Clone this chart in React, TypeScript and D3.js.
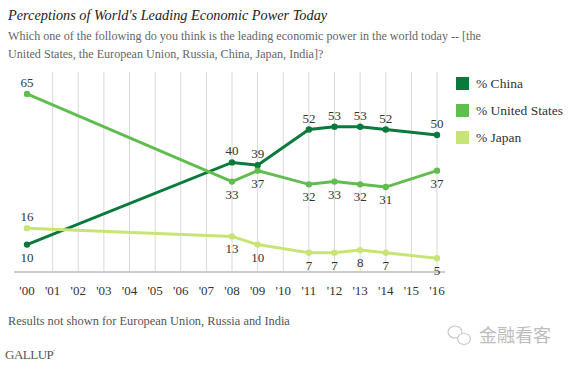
import * as d3 from 'd3';
import React from 'react';

const years = [2000, 2001, 2002, 2003, 2004, 2005, 2006, 2007, 2008, 2009, 2010, 2011, 2012, 2013, 2014, 2015, 2016];
const surveyYears = [2000, 2008, 2009, 2011, 2012, 2013, 2014, 2016];
const china = [10, 40, 39, 52, 53, 53, 52, 50];
const unitedStates = [65, 33, 37, 32, 33, 32, 31, 37];
const japan = [16, 13, 10, 7, 7, 8, 7, 5];
const tickLabels = years.map((y) => "'" + String(y).slice(2));

// label above (-1) or below (1) each point
const chinaPos = [1, -1, -1, -1, -1, -1, -1, -1];
const usPos = [-1, 1, 1, 1, 1, 1, 1, 1];
const japanPos = [-1, 1, 1, 1, 1, 1, 1, 1];

const serif = "Liberation Serif, DejaVu Serif, serif";

const series = [
  { name: '% China', values: china, pos: chinaPos, color: '#0a7a3c' },
  { name: '% United States', values: unitedStates, pos: usPos, color: '#62bd50' },
  { name: '% Japan', values: japan, pos: japanPos, color: '#c9e476' },
];

const App = () => {
  const x = d3.scaleLinear().domain([2000, 2016]).range([27, 437]);
  const y = d3.scaleLinear().domain([0, 73]).range([272, 72]);

  const line = d3
    .line<[number, number]>()
    .x((d) => x(d[0]))
    .y((d) => y(d[1]));

  return (
    <svg width={572} height={370} style={{ position: 'absolute', left: 0, top: 0, background: '#fff' }}>
      <text x={8} y={20} fontFamily={serif} fontStyle="italic" fontSize={14.3} fill="#222">
        Perceptions of World's Leading Economic Power Today
      </text>
      <text x={8} y={40} fontFamily={serif} fontSize={12.1} fill="#666">
        Which one of the following do you think is the leading economic power in the world today -- [the
      </text>
      <text x={8} y={58} fontFamily={serif} fontSize={12.1} fill="#666">
        United States, the European Union, Russia, China, Japan, India]?
      </text>

      {years.slice(1).map((yr) => (
        <line key={yr} x1={x(yr)} x2={x(yr)} y1={72} y2={272} stroke="#d9d9d9" strokeWidth={1} />
      ))}
      <line x1={14} x2={445} y1={y(0)} y2={y(0)} stroke="#cccccc" strokeWidth={2} />

      {years.map((yr, i) => (
        <text key={yr} x={x(yr)} y={295} textAnchor="middle" fontFamily={serif} fontSize={13} fill="#333">
          {tickLabels[i]}
        </text>
      ))}

      {series.map((s) => {
        const pts = surveyYears.map((yr, i) => [yr, s.values[i]] as [number, number]);
        return (
          <g key={s.name}>
            <path d={line(pts) || ''} fill="none" stroke={s.color} strokeWidth={3} />
            {pts.map((p, i) => (
              <circle key={i} cx={x(p[0])} cy={y(p[1])} r={3.2} fill={s.color} />
            ))}
            {pts.map((p, i) => (
              <text
                key={'l' + i}
                x={x(p[0])}
                y={y(p[1]) + (s.pos[i] < 0 ? -7 : 17)}
                textAnchor="middle"
                fontFamily={serif}
                fontSize={13}
                fill="#333"
              >
                {p[1]}
              </text>
            ))}
          </g>
        );
      })}

      {series.map((s, i) => (
        <g key={'lg' + i}>
          <rect x={456} y={77 + i * 27} width={13} height={13} fill={s.color} />
          <text x={476} y={88 + i * 27} fontFamily={serif} fontSize={13.5} fill="#333">
            {s.name}
          </text>
        </g>
      ))}

      <text x={8} y={325} fontFamily={serif} fontSize={12.4} fill="#555">
        Results not shown for European Union, Russia and India
      </text>
      <text x={5} y={359} fontFamily={serif} fontSize={13} fill="#555" letterSpacing={-0.5}>
        GALLUP
        <tspan fontSize={7} dy={-5}>'</tspan>
      </text>

      <g stroke="#c8c8c8" fill="none" strokeWidth={1.2}>
        <ellipse cx={455} cy={332} rx={7} ry={6} />
        <ellipse cx={464} cy={339} rx={6.5} ry={5.5} fill="#fff" />
      </g>
      <text x={479} y={342} fontFamily="'Noto Sans CJK SC', sans-serif" fontSize={18} fill="#bdbdbd">
        金融看客
      </text>
    </svg>
  );
};

export default App;
